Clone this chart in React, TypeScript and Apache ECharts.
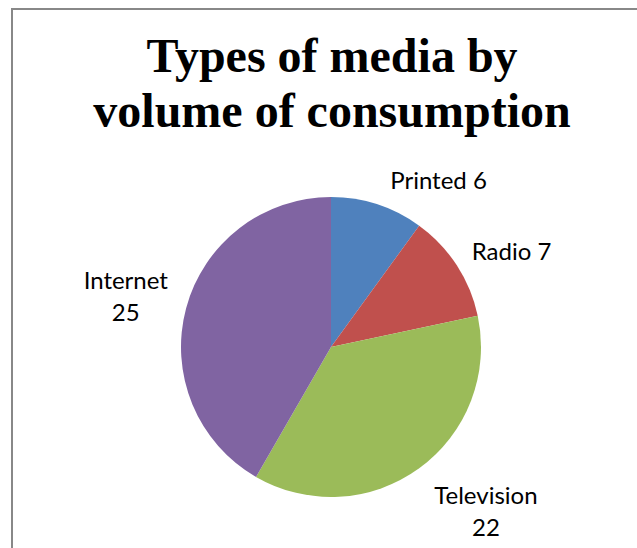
import React, { useEffect, useRef } from "react";
import * as echarts from "echarts";

const categories = ["Printed", "Radio", "Television", "Internet"];
const values = [6, 7, 22, 25];
const colors = ["#4F81BD", "#C0504D", "#9BBB59", "#8064A2"];
const twoLineLabels = [false, false, true, true];
const labelOffsets = [
  [50, -6],
  [33, -4],
  [50, 26],
  [-36, -8],
];
const titleLines = ["Types of media by", "volume of consumption"];

export default function App() {
  const ref = useRef<HTMLDivElement>(null);
  useEffect(() => {
    if (!ref.current) return;
    const chart = echarts.init(ref.current, undefined, { renderer: "svg" });
    chart.setOption({
      animation: false,
      backgroundColor: "#ffffff",
      title: {
        text: titleLines.join("\n"),
        left: 332,
        top: 28,
        padding: 0,
        textAlign: "center",
        textStyle: {
          fontFamily: "Liberation Serif",
          fontWeight: "bold",
          fontSize: 48,
          lineHeight: 55,
          color: "#000000",
        },
      },
      graphic: [
        {
          type: "rect",
          shape: { x: 12, y: 9, width: 700, height: 600 },
          style: { fill: "none", stroke: "#888888", lineWidth: 2 },
          silent: true,
        },
      ],
      series: [
        {
          type: "pie",
          center: [331, 347],
          radius: 150,
          startAngle: 90,
          clockwise: true,
          data: categories.map((c, i) => ({
            name: c,
            value: values[i],
            itemStyle: { color: colors[i] },
          })),
          itemStyle: { borderWidth: 0 },
          label: {
            show: true,
            position: "outside",
            formatter: (p: any) =>
              twoLineLabels[p.dataIndex] ? `${p.name}\n${p.value}` : `${p.name} ${p.value}`,
            fontFamily: "Lato",
            fontSize: 24,
            lineHeight: 32,
            color: "#000000",
          },
          labelLine: { show: false, length: 20, length2: 0 },
          labelLayout: (p: any) => ({
            align: "center",
            verticalAlign: "middle",
            dx: labelOffsets[p.dataIndex][0],
            dy: labelOffsets[p.dataIndex][1],
          }),
          emphasis: { disabled: true },
        },
      ],
    });
    return () => chart.dispose();
  }, []);
  return (
    <div
      ref={ref}
      style={{ position: "fixed", left: 0, top: 0, width: 637, height: 548 }}
    />
  );
}
